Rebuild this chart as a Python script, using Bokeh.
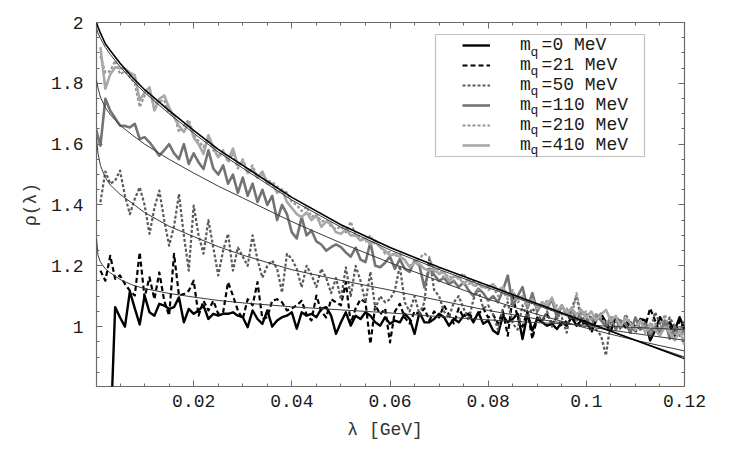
import math
from bokeh.plotting import figure
from bokeh.models import (Range1d, FixedTicker, LinearAxis, CustomJSTickFormatter,
                          Legend, LegendItem, BoxAnnotation, Label)
from bokeh.embed import file_html
from bokeh.resources import INLINE

nan = float("nan")

# lambda grid [GeV], k = 0..120
lam = [round(0.001 * k, 3) for k in range(121)]

m0 = [nan, nan, nan, 0.62,
      1.064, 1.03, 1.000, 1.116, 1.06, 1.007, 1.102, 1.047, 1.036, 1.075,
      1.069, 1.058, 1.064, 1.096, 1.014, 1.058, 1.042, 1.053, 1.069, 1.025,
      1.042, 1.036, 1.042, 1.042, 1.047, 1.036, 1.031, 0.998, 1.053, 1.025,
      1.009, 1.053, 1.000, 1.020, 1.031, 1.036, 1.047, 0.993, 1.047, 1.036,
      1.042, 1.031, 1.058, 1.064, 1.036, 0.976, 1.014, 1.047, 1.003, 1.036,
      1.025, 1.047, 1.036, 1.014, 1.003, 1.031, 1.009, 1.020, 1.014, 1.042,
      1.025, 0.976, 1.047, 1.014, 1.014, 1.025, 1.042, 1.031, 1.003, 1.025,
      1.014, 1.036, 1.042, 1.014, 1.047, 1.009, 1.020, 0.987, 0.976, 1.036,
      1.014, 1.025, 1.042, 0.959, 1.042, 0.987, 1.025, 1.014, 1.003, 1.009,
      0.992, 1.014, 1.003, 1.031, 1.003, 1.020, 1.009, 0.997, 1.020, 1.042,
      1.014, 0.987, 1.031, 1.014, 0.997, 1.014, 0.987, 1.025, 1.020, 0.954,
      0.987, 1.031, 1.003, 1.014, 0.987, 1.031, 0.992]

m21 = [nan,
       1.184, 1.151, 1.233, 1.157, 1.168, 1.14, 1.118, 1.102, 1.244, 1.096,
       1.162, 1.09, 1.178, 1.085, 1.036, 1.239, 1.102, 1.107, 1.118, 1.151,
       1.036, 1.085, 1.053, 1.085, 1.042, 1.047, 1.146, 1.102, 1.053, 1.025,
       1.09, 1.07, 1.146, 1.025, 1.031, 1.085, 1.09, 1.08, 1.053, 1.06,
       1.07, 1.085, 1.04, 1.02, 1.102, 1.05, 1.03, 1.09, 1.08, 1.07,
       1.146, 1.01, 1.06, 1.09, 1.08, 0.943, 1.07, 1.04, 1.06, 0.948,
       1.05, 1.075, 1.03, 1.01, 1.05, 1.04, 1.06, 1.02, 1.05, 1.03,
       1.07, 1.04, 1.01, 1.06, 1.03, 1.05, 1.02, 1.04, 1.06, 1.03,
       1.04, 1.01, 1.05, 0.97, 1.101, 1.03, 1.00, 1.05, 0.96, 1.03,
       1.02, 1.04, 1.01, 1.03, 1.00, 1.02, 1.04, 1.01, 1.00, 1.03,
       0.98, 1.02, 1.04, 1.00, 0.99, 1.02, 1.00, 1.03, 0.98, 1.01,
       0.99, 1.00, 1.06, 1.02, 0.98, 1.01, 1.00, 0.97, 1.02, 0.99]

m50 = [nan,
       1.409, 1.51, 1.47, 1.48, 1.513, 1.43, 1.37, 1.42, 1.458, 1.40,
       1.305, 1.39, 1.447, 1.35, 1.266, 1.33, 1.436, 1.30, 1.184, 1.398,
       1.30, 1.24, 1.35, 1.26, 1.168, 1.25, 1.305, 1.184, 1.26, 1.23,
       1.20, 1.30, 1.22, 1.161, 1.20, 1.217, 1.19, 1.112, 1.239, 1.223,
       1.19, 1.129, 1.20, 1.17, 1.13, 1.19, 1.16, 1.11, 1.16, 1.09,
       1.195, 1.10, 1.20, 1.15, 1.08, 1.18, 1.06, 1.10, 1.08, 1.09,
       1.12, 1.20, 1.08, 1.05, 1.10, 1.04, 1.08, 1.228, 1.12, 1.10,
       1.05, 1.03, 1.08, 1.10, 1.06, 1.02, 1.09, 1.12, 1.06, 1.07,
       1.04, 0.99, 1.06, 1.08, 1.01, 0.99, 1.07, 1.03, 1.06, 1.04,
       1.02, 1.05, 1.00, 1.04, 1.03, 0.98, 1.06, 1.10, 1.02, 1.04,
       1.03, 0.99, 0.97, 0.905, 1.02, 1.03, 0.99, 1.04, 1.01, 0.98,
       1.02, 1.00, 0.98, 1.047, 1.01, 0.99, 1.03, 1.00, 0.98, 1.02]

m110 = [1.655,
        1.595, 1.749, 1.71, 1.685, 1.661, 1.66, 1.655, 1.667, 1.617, 1.623,
        1.606, 1.585, 1.562, 1.58, 1.60, 1.57, 1.551, 1.60, 1.535, 1.57,
        1.54, 1.518, 1.58, 1.52, 1.50, 1.53, 1.47, 1.50, 1.44, 1.49,
        1.43, 1.47, 1.41, 1.45, 1.40, 1.43, 1.35, 1.40, 1.37, 1.31,
        1.29, 1.36, 1.30, 1.316, 1.28, 1.27, 1.25, 1.261, 1.27, 1.261,
        1.244, 1.23, 1.26, 1.22, 1.212, 1.277, 1.20, 1.195, 1.21, 1.23,
        1.19, 1.222, 1.19, 1.18, 1.217, 1.20, 1.129, 1.19, 1.17, 1.15,
        1.16, 1.14, 1.15, 1.13, 1.145, 1.12, 1.10, 1.125, 1.11, 1.086,
        1.10, 1.08, 1.12, 1.168, 1.07, 1.10, 1.13, 1.06, 1.11, 1.05,
        1.08, 1.06, 1.09, 1.03, 1.07, 1.04, 1.06, 1.02, 1.05, 1.03,
        1.00, 1.04, 1.02, 1.00, 1.03, 0.99, 1.02, 1.01, 0.98, 1.03,
        0.99, 1.01, 0.97, 1.00, 0.98, 1.02, 0.96, 1.00, 0.97, 0.99]

m210 = [nan,
        1.89, 1.835, 1.84, 1.875, 1.83, 1.84, 1.82, 1.80, 1.722, 1.76,
        1.77, 1.735, 1.74, 1.745, 1.70, 1.70, 1.64, 1.66, 1.68, 1.63,
        1.61, 1.59, 1.615, 1.58, 1.56, 1.58, 1.54, 1.57, 1.52, 1.55,
        1.51, 1.53, 1.49, 1.50, 1.48, 1.475, 1.46, 1.45, 1.44, 1.41,
        1.40, 1.38, 1.395, 1.36, 1.37, 1.345, 1.35, 1.33, 1.32, 1.33,
        1.31, 1.345, 1.30, 1.295, 1.28, 1.30, 1.27, 1.265, 1.24, 1.245,
        1.23, 1.24, 1.215, 1.20, 1.21, 1.225, 1.24, 1.229, 1.18, 1.19,
        1.16, 1.17, 1.15, 1.16, 1.175, 1.14, 1.15, 1.12, 1.135, 1.12,
        1.13, 1.10, 1.115, 1.09, 1.12, 1.08, 1.09, 1.065, 1.08, 1.06,
        1.07, 1.085, 1.05, 1.07, 1.04, 1.06, 1.03, 1.11, 1.04, 1.05,
        1.02, 1.04, 1.03, 1.01, 1.035, 1.02, 1.00, 1.03, 1.01, 0.99,
        1.02, 1.00, 0.98, 1.01, 0.99, 1.04, 0.985, 0.97, 1.00, 0.96]

m410 = [nan,
        1.919, 1.782, 1.83, 1.853, 1.85, 1.848, 1.835, 1.826, 1.744, 1.77,
        1.787, 1.711, 1.749, 1.76, 1.72, 1.689, 1.66, 1.64, 1.67, 1.623,
        1.60, 1.568, 1.629, 1.59, 1.557, 1.575, 1.55, 1.585, 1.53, 1.545,
        1.505, 1.52, 1.49, 1.51, 1.47, 1.47, 1.44, 1.45, 1.41, 1.39,
        1.37, 1.36, 1.375, 1.35, 1.366, 1.328, 1.345, 1.338, 1.31, 1.305,
        1.32, 1.30, 1.30, 1.283, 1.29, 1.27, 1.283, 1.261, 1.25, 1.234,
        1.24, 1.229, 1.22, 1.195, 1.21, 1.206, 1.19, 1.184, 1.19, 1.173,
        1.18, 1.151, 1.165, 1.162, 1.14, 1.155, 1.135, 1.14, 1.13, 1.129,
        1.14, 1.12, 1.13, 1.10, 1.11, 1.09, 1.10, 1.075, 1.09, 1.06,
        1.08, 1.07, 1.095, 1.05, 1.07, 1.045, 1.06, 1.04, 1.055, 1.03,
        1.05, 1.02, 1.04, 1.055, 1.02, 1.035, 1.00, 1.03, 1.01, 0.99,
        1.02, 0.98, 1.01, 0.99, 0.97, 1.00, 0.98, 0.955, 0.985, 0.94]

# fitted curves, sampled
fit_lam = [0.0002, 0.0005, 0.001, 0.002, 0.003, 0.005, 0.0075, 0.01, 0.015, 0.02, 0.025,
           0.03, 0.04, 0.05, 0.06, 0.07, 0.08, 0.09, 0.1, 0.11, 0.12]
fit410 = [2.00, 1.985, 1.965, 1.93, 1.908, 1.866, 1.82, 1.779, 1.71, 1.645, 1.583,
          1.53, 1.425, 1.335, 1.26, 1.195, 1.135, 1.075, 1.015, 0.955, 0.895]
fit210 = [1.98, 1.965, 1.948, 1.918, 1.895, 1.855, 1.81, 1.77, 1.70, 1.636, 1.574,
          1.521, 1.416, 1.327, 1.252, 1.188, 1.128, 1.07, 1.012, 0.955, 0.90]
fit110 = [1.81, 1.785, 1.755, 1.72, 1.697, 1.662, 1.63, 1.60, 1.55, 1.505, 1.462,
          1.423, 1.345, 1.275, 1.21, 1.15, 1.09, 1.04, 0.995, 0.955, 0.92]
fit50 = [1.62, 1.57, 1.53, 1.49, 1.466, 1.435, 1.405, 1.375, 1.33, 1.296, 1.263,
         1.235, 1.187, 1.152, 1.12, 1.086, 1.053, 1.025, 1.0, 0.977, 0.955]
fit21 = [1.29, 1.235, 1.212, 1.19, 1.177, 1.155, 1.137, 1.125, 1.109, 1.097, 1.086,
         1.078, 1.065, 1.055, 1.045, 1.033, 1.022, 1.013, 1.005, 0.997, 0.99]

labels = ["m =0 MeV", "m =21 MeV", "m =50 MeV", "m =110 MeV", "m =210 MeV", "m =410 MeV"]
x_ticks = [0.02, 0.04, 0.06, 0.08, 0.1, 0.12]
y_ticks = [1.0, 1.2, 1.4, 1.6, 1.8, 2.0]

X0, X1 = 0.0002, 0.12
Y0, Y1 = 0.803, 2.0
FW, FH = 588, 364  # frame size in px

p = figure(frame_width=FW, frame_height=FH, output_backend="svg", toolbar_location=None,
           x_range=Range1d(X0, X1), y_range=Range1d(Y0, Y1),
           min_border_left=96, min_border_right=40, min_border_top=22, min_border_bottom=58)
p.grid.visible = False
p.outline_line_color = "#6a6a6a"
p.outline_line_width = 1.2
p.background_fill_color = "white"

styles = [("#000000", None, 2.4), ("#000000", "5 3", 2.2), ("#5a5a5a", "3 2", 2.2),
          ("#737373", None, 2.6), ("#959595", "3 2", 2.2), ("#a8a8a8", None, 2.6)]
series = [m0, m21, m50, m110, m210, m410]
rends = []
for ys, (c, d, w) in zip(series, styles):
    kw = dict(line_color=c, line_width=w, line_join="round")
    if d:
        kw["line_dash"] = d
    rends.append(p.line(lam, ys, **kw))

for fy, c, w in [(fit21, "#3a3a3a", 1.0), (fit50, "#3a3a3a", 1.0), (fit110, "#3a3a3a", 1.0),
                 (fit210, "#3a3a3a", 1.0), (fit410, "#000000", 1.6)]:
    p.line(fit_lam, fy, line_color=c, line_width=w)

fmt = CustomJSTickFormatter(code="return String(Math.round(tick*1000)/1000);")
blank = CustomJSTickFormatter(code="return '';")
x_minor = [round(0.005 * i, 3) for i in range(1, 24)]
y_minor = [round(0.8 + 0.05 * i, 2) for i in range(1, 24)]


def style(ax, show):
    ax.axis_line_color = None
    ax.major_tick_in = 6
    ax.major_tick_out = 0
    ax.minor_tick_in = 3
    ax.minor_tick_out = 0
    ax.major_tick_line_color = "#6a6a6a"
    ax.minor_tick_line_color = "#6a6a6a"
    ax.major_label_text_font = "Liberation Mono"
    ax.major_label_text_font_size = "18px"
    ax.major_label_text_color = "#1a1a1a"
    ax.axis_label_text_font = "Liberation Mono"
    ax.axis_label_text_font_size = "18px"
    ax.axis_label_text_font_style = "normal"
    ax.axis_label_text_color = "#333333"
    ax.formatter = fmt if show else blank


xb = p.xaxis[0]
xb.ticker = FixedTicker(ticks=x_ticks, minor_ticks=x_minor)
style(xb, True)
xb.major_label_standoff = 8
xb.axis_label = "λ  [GeV]"
xb.axis_label_standoff = 10

yl = p.yaxis[0]
yl.ticker = FixedTicker(ticks=y_ticks, minor_ticks=y_minor)
style(yl, True)
yl.major_label_standoff = 13
yl.axis_label = "ρ(λ)"
yl.axis_label_standoff = 7

xt = LinearAxis(ticker=FixedTicker(ticks=x_ticks, minor_ticks=x_minor))
style(xt, False)
p.add_layout(xt, "above")
yr = LinearAxis(ticker=FixedTicker(ticks=y_ticks, minor_ticks=y_minor))
style(yr, False)
p.add_layout(yr, "right")


def dx(px):
    return X0 + px * (X1 - X0) / FW


def dy(py_from_top):
    return Y1 - py_from_top * (Y1 - Y0) / FH


# legend frame (page px: 435..644 x 34..156; frame origin at page 96,22)
box = BoxAnnotation(left=dx(339), right=dx(548), top=dy(12), bottom=dy(134),
                    fill_color="white", fill_alpha=1.0,
                    line_color="#333333", line_width=1.2, level="annotation")
p.add_layout(box)

legend = Legend(items=[LegendItem(label=l, renderers=[r]) for l, r in zip(labels, rends)],
                location=(366, 231), padding=4, spacing=0, margin=0,
                glyph_width=28, glyph_height=20, label_height=20, label_standoff=30,
                label_text_font="Liberation Mono", label_text_font_size="18px",
                label_text_color="#1a1a1a", border_line_color=None,
                background_fill_alpha=0.0)
p.add_layout(legend)

# subscript q for each legend label
for i in range(len(labels)):
    p.add_layout(Label(x=dx(434), y=dy(25.5 + 19.6 * i + 4), text="q",
                       text_font="Liberation Mono", text_font_size="13px",
                       text_color="#1a1a1a", text_baseline="middle"))

open("out.html", "w").write(file_html(p, INLINE))
